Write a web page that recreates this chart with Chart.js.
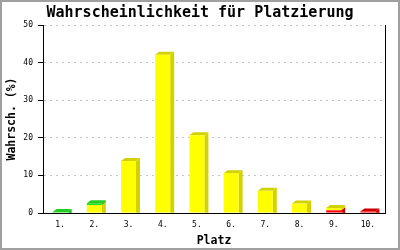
<!DOCTYPE html>
<html>
<head>
<meta charset="utf-8">
<script src="https://cdn.jsdelivr.net/npm/chart.js@4"></script>
<style>
html,body{margin:0;padding:0;background:#fff;}
#wrap{width:400px;height:250px;position:relative;}
</style>
</head>
<body>
<div id="wrap"><canvas id="c" width="400" height="250"></canvas></div>
<script>
const categories = ["1.","2.","3.","4.","5.","6.","7.","8.","9.","10."];
const redValues    = [0, 0, 0, 0, 0, 0, 0, 0, 0.7, 0.4];
const yellowValues = [0, 2.1, 13.8, 42.1, 20.7, 10.6, 5.9, 2.5, 0.6, 0];
const greenValues  = [0.25, 0.5, 0, 0, 0, 0, 0, 0, 0, 0];
const yTicks = [0, 10, 20, 30, 40, 50];

const MONO = '"DejaVu Sans Mono", "Liberation Mono", monospace';
const DX = 4, DY = 3;
const nz = arr => arr.map(v => (v > 0 ? v : null));

const bar3d = {
  id: 'bar3d',
  beforeDatasetsDraw(chart) {
    const ctx = chart.ctx;
    const n = chart.data.labels.length;
    const base = chart.scales.y.getPixelForValue(0);
    for (let i = 0; i < n; i++) {
      let topDs = -1, bottomDs = -1;
      chart.data.datasets.forEach((ds, d) => {
        if (ds.data[i] > 0) { if (bottomDs < 0) bottomDs = d; topDs = d; }
      });
      chart.data.datasets.forEach((ds, d) => {
        if (!(ds.data[i] > 0)) return;
        const el = chart.getDatasetMeta(d).data[i];
        const x1 = el.x - el.width / 2, x2 = el.x + el.width / 2;
        const yT = el.y, yB = el.base;
        ctx.save();
        ctx.fillStyle = ds.shade;
        ctx.beginPath();
        ctx.moveTo(x2, yT);
        ctx.lineTo(x2 + DX, yT - DY);
        ctx.lineTo(x2 + DX, d === bottomDs ? base : yB - DY);
        ctx.lineTo(x2, yB);
        ctx.closePath();
        ctx.fill();
        if (d === topDs) {
          ctx.fillStyle = ds.topColor;
          ctx.beginPath();
          ctx.moveTo(x1, yT);
          ctx.lineTo(x1 + DX, yT - DY);
          ctx.lineTo(x2 + DX, yT - DY);
          ctx.lineTo(x2, yT);
          ctx.closePath();
          ctx.fill();
        }
        ctx.restore();
      });
    }
  },
  afterDraw(chart) {
    const ctx = chart.ctx;
    ctx.save();
    ctx.strokeStyle = '#a0a0a0';
    ctx.lineWidth = 2;
    ctx.strokeRect(1, 1, chart.width - 2, chart.height - 2);
    ctx.restore();
  }
};

const barCommon = { barThickness: 15, stack: 's', inflateAmount: 0, borderWidth: 0 };

new Chart(document.getElementById('c'), {
  type: 'bar',
  data: {
    labels: categories,
    datasets: [
      Object.assign({ label: 'rot', data: nz(redValues), backgroundColor: '#ff0000', shade: '#cc0000', topColor: '#cc0000' }, barCommon),
      Object.assign({ label: 'gelb', data: nz(yellowValues), backgroundColor: '#ffff00', shade: '#d2d200', topColor: '#d2d200' }, barCommon),
      Object.assign({ label: 'grün', data: nz(greenValues), backgroundColor: '#22dd22', shade: '#11b811', topColor: '#22cc22' }, barCommon)
    ]
  },
  options: {
    responsive: false,
    animation: false,
    devicePixelRatio: 1,
    layout: { padding: 0 },
    plugins: {
      legend: { display: false },
      tooltip: { enabled: false },
      title: {
        display: true,
        text: 'Wahrscheinlichkeit für Platzierung',
        color: '#000',
        font: { family: MONO, size: 15, weight: 'bold', lineHeight: 1.2 },
        padding: { top: 4, bottom: 3 }
      }
    },
    scales: {
      x: {
        stacked: true,
        grid: { display: false, drawTicks: false, tickLength: 0 },
        border: { display: true, color: '#000', width: 1 },
        ticks: { color: '#000', font: { family: MONO, size: 8 }, padding: 7, maxRotation: 0, autoSkip: false },
        title: { display: true, text: 'Platz', color: '#000', font: { family: MONO, size: 11.5, weight: 'bold', lineHeight: 1.2 }, padding: { top: 0, bottom: 2 } },
        afterFit(s) { s.height = 37; }
      },
      y: {
        stacked: true,
        min: 0, max: 50,
        afterBuildTicks(s) { s.ticks = yTicks.map(v => ({ value: v })); },
        grid: { color: '#c4c4c4', tickColor: '#000', tickBorderDash: [], tickLength: 5, drawTicks: true },
        border: { display: true, color: '#000', width: 1, dash: [2, 4] },
        ticks: { color: '#000', font: { family: MONO, size: 8 }, padding: 5 },
        title: { display: true, text: 'Wahrsch. (%)', color: '#000', font: { family: MONO, size: 11.5, weight: 'bold', lineHeight: 1.2 }, padding: { top: 5, bottom: 0 } },
        afterFit(s) { s.width = 43; }
      },
      y2: {
        position: 'right',
        min: 0, max: 50,
        grid: { display: false },
        ticks: { display: false },
        border: { display: true, color: '#000', width: 1 },
        afterFit(s) { s.width = 15; }
      }
    }
  },
  plugins: [bar3d]
});
</script>
</body>
</html>
